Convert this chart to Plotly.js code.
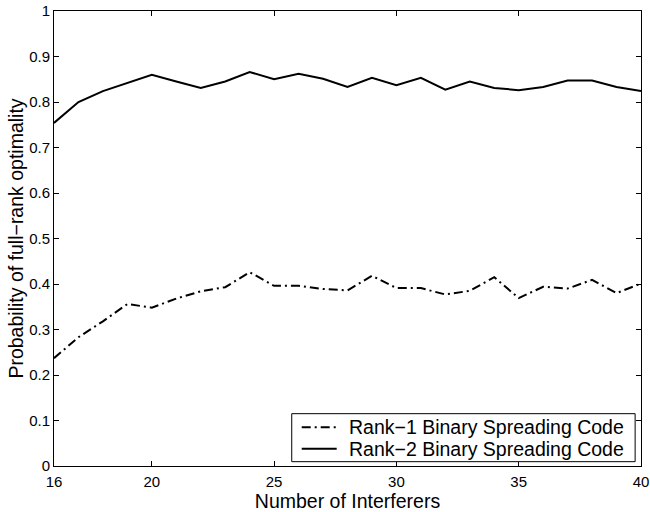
<!DOCTYPE html>
<html>
<head>
<meta charset="utf-8">
<script src="https://cdn.plot.ly/plotly-3.0.1.min.js"></script>
<style>html,body{margin:0;padding:0;background:#fff;}#chart{width:650px;height:512px;}</style>
</head>
<body>
<div id="chart"></div>
<script>
const interferers = [16,17,18,19,20,21,22,23,24,25,26,27,28,29,30,31,32,33,34,35,36,37,38,39,40];
const rank1 = [0.237,0.283,0.318,0.356,0.348,0.368,0.384,0.393,0.426,0.396,0.396,0.389,0.386,0.418,0.391,0.391,0.377,0.385,0.415,0.369,0.394,0.390,0.409,0.380,0.401];
const rank2 = [0.754,0.800,0.824,0.842,0.860,0.845,0.831,0.845,0.866,0.850,0.862,0.851,0.833,0.853,0.837,0.853,0.827,0.845,0.831,0.826,0.833,0.847,0.847,0.833,0.824];
const xTicks = [16,20,25,30,35,40];
const yTicks = [0,0.1,0.2,0.3,0.4,0.5,0.6,0.7,0.8,0.9,1];
const yTickText = ['0','0.1','0.2','0.3','0.4','0.5','0.6','0.7','0.8','0.9','1'];
const seriesNames = ['Rank\u22121 Binary Spreading Code','Rank\u22122 Binary Spreading Code'];

const font = 'Liberation Sans, Arial, Helvetica, sans-serif';
const dashes = ['9px,4px,2px,4px', 'solid'];
const traces = [
  {x: interferers, y: rank1, name: seriesNames[0], mode: 'lines',
   line: {color: '#000', width: 2, dash: dashes[0]}},
  {x: interferers, y: rank2, name: seriesNames[1], mode: 'lines',
   line: {color: '#000', width: 2, dash: dashes[1]}}
];

// manual legend (paper coordinates)
const legBox = {x0: 0.405, x1: 0.990, y0: 0.0095, y1: 0.115};
const rowY = [0.0850, 0.0380];
const shapes = [{type: 'rect', xref: 'paper', yref: 'paper', x0: legBox.x0, x1: legBox.x1,
  y0: legBox.y0, y1: legBox.y1, line: {color: '#000', width: 1}, fillcolor: '#fff', layer: 'above'}];
const annotations = [];
seriesNames.forEach((nm, i) => {
  shapes.push({type: 'line', xref: 'paper', yref: 'paper', x0: 0.422, x1: 0.4816,
    y0: rowY[i], y1: rowY[i], line: {color: '#000', width: 2, dash: dashes[i]}, layer: 'above'});
  annotations.push({xref: 'paper', yref: 'paper', x: 0.4997, y: rowY[i], xanchor: 'left', yanchor: 'middle',
    text: nm, showarrow: false, font: {family: font, size: 19.5, color: '#000'}});
});

const axisCommon = {showline: true, linecolor: '#000', linewidth: 1, mirror: 'ticks',
  ticks: 'inside', ticklen: 5, tickcolor: '#000', showgrid: false, zeroline: false,
  tickfont: {family: font, size: 15, color: '#000'}};
const layout = {
  width: 650, height: 512,
  margin: {l: 54, r: 9, t: 11, b: 46},
  paper_bgcolor: '#fff', plot_bgcolor: '#fff',
  font: {family: font, color: '#000'},
  showlegend: false,
  shapes: shapes,
  annotations: annotations,
  xaxis: Object.assign({}, axisCommon, {range: [16, 40], tickvals: xTicks, ticklabelstandoff: 2,
    title: {text: 'Number of Interferers', font: {family: font, size: 19.5, color: '#000'}, standoff: 4}}),
  yaxis: Object.assign({}, axisCommon, {range: [0, 1], tickvals: yTicks, ticktext: yTickText,
    title: {text: 'Probability of full\u2212rank optimality', font: {family: font, size: 19.5, color: '#000'}, standoff: 0}})
};
Plotly.newPlot('chart', traces, layout, {displayModeBar: false, staticPlot: true});
</script>
</body>
</html>
